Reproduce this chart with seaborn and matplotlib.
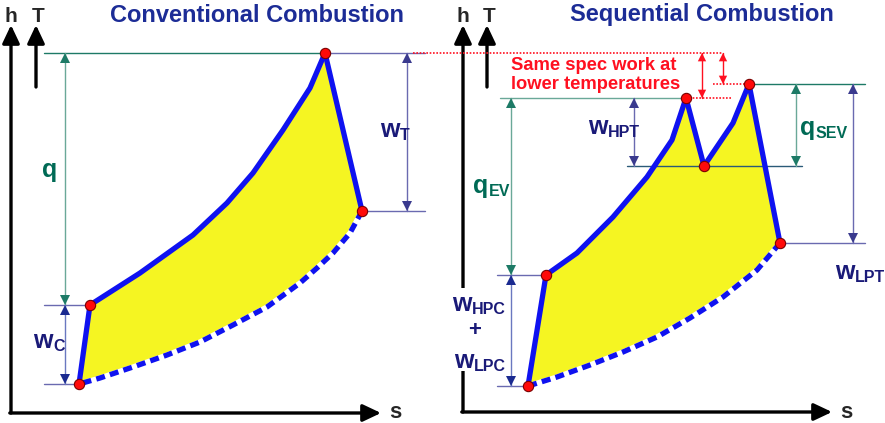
import numpy as np
import matplotlib
matplotlib.use("Agg")
import matplotlib.pyplot as plt
import seaborn as sns

# state points of both cycles (pixel units, y grows downward)
conv_heat_s = [90, 140, 193, 227, 253, 283, 310, 325]
conv_heat_h = [305, 273, 235, 203, 173, 130, 88, 53]
conv_comp_s = [79, 90]
conv_comp_h = [384, 305]
conv_turb_s = [325, 362]
conv_turb_h = [53, 211]
conv_exh_s = [362, 350, 333, 317, 300, 267, 233, 200, 167, 133, 100, 79]
conv_exh_h = [211, 233, 253, 268, 283, 307, 325, 342, 355, 367, 378, 384]
conv_pts_s = [79, 90, 325, 362]
conv_pts_h = [384, 305, 53, 211]

seq_comp_s = [528, 546]
seq_comp_h = [386, 275]
seq_ev_s = [546, 577, 613, 647, 672, 686]
seq_ev_h = [275, 253, 217, 177, 140, 98]
seq_hpt_s = [686, 704]
seq_hpt_h = [98, 166]
seq_sev_s = [704, 733, 749]
seq_sev_h = [166, 123, 84]
seq_lpt_s = [749, 780]
seq_lpt_h = [84, 243]
seq_exh_s = [780, 757, 723, 690, 657, 623, 590, 557, 528]
seq_exh_h = [243, 270, 297, 318, 337, 352, 365, 377, 386]
seq_pts_s = [528, 546, 686, 704, 749, 780]
seq_pts_h = [386, 275, 98, 166, 84, 243]

BLUE = "#0f12f0"
YELLOW = "#f5f522"
TEAL = "#1d7a66"
TEAL_LINE = "#6aa898"
TEAL_TXT = "#006a55"
SLATE = "#6a6ab0"
SLATE_HEAD = "#3a3a8e"
NAVY_LINE = "#6a78c0"
NAVY_HEAD = "#1a2a90"
NAVY = "#1a1a78"
TITLE = "#1c2c96"
RED = "#ff1020"

sns.set_style("white")
plt.rcParams["font.family"] = ["Liberation Sans", "DejaVu Sans"]

fig = plt.figure(figsize=(8.85, 4.23), dpi=100)
ax = fig.add_axes([0, 0, 1, 1])
ax.set_xlim(0, 885)
ax.set_ylim(423, 0)
ax.axis("off")

HEAD = "-|>,head_length=0.4,head_width=0.2"


def arrow(x, y0, y1, line_color, head_color, ms=18):
    ax.plot([x, x], [y0, y1], color=line_color, lw=1.0, zorder=3)
    mid = (y0 + y1) / 2
    for yend in (y0, y1):
        ax.annotate("", xy=(x, yend), xytext=(x, mid),
                    arrowprops=dict(arrowstyle=HEAD, color=head_color, lw=0, mutation_scale=ms,
                                    shrinkA=0, shrinkB=0), zorder=3)


def big_arrow(x0, y0, x1, y1):
    ax.annotate("", xy=(x1, y1), xytext=(x0, y0),
                arrowprops=dict(arrowstyle="-|>,head_length=0.55,head_width=0.26", color="black",
                                lw=2.4, mutation_scale=20, shrinkA=0, shrinkB=0), zorder=2)


def hline(y, x0, x1, color, lw=1.0, ls="-"):
    ax.plot([x0, x1], [y, y], color=color, lw=lw, ls=ls, zorder=2)


def label(x, y, main, sub, color):
    t = ax.text(x, y, main, fontsize=18, fontweight="bold", color=color,
                ha="left", va="baseline", zorder=6)
    ax.annotate(sub, xy=(1, 0), xycoords=t, xytext=(0.3, 1.5), textcoords="offset points",
                fontsize=11.5, fontweight="bold", color=color, ha="left", va="baseline", zorder=6)
    return t


def axes_frame(xa, xt, ybot, xend):
    big_arrow(xa, ybot, xa, 25)
    big_arrow(xt, 87, xt, 25)
    big_arrow(xa - 1.2, ybot, xend, ybot)
    ax.text(xa, 16, "h", fontsize=15, fontweight="bold", ha="center", va="center")
    ax.text(xt + 2, 16, "T", fontsize=15, fontweight="bold", ha="center", va="center")
    ax.text(xend + 14, 413, "s", fontsize=16, fontweight="bold", ha="center", va="center")


def cycle(solid, dashed, pts):
    fs = sum([s for s, h in solid], []) + dashed[0]
    fh = sum([h for s, h in solid], []) + dashed[1]
    ax.fill(fs, fh, color=YELLOW, zorder=1, lw=0)
    for s, h in solid:
        sns.lineplot(x=s, y=h, sort=False, estimator=None, color=BLUE, lw=3.8,
                     solid_joinstyle="round", solid_capstyle="round", ax=ax, zorder=3)
    ax.plot(dashed[0], dashed[1], color="white", lw=3.8, zorder=3, solid_joinstyle="round")
    ax.plot(dashed[0], dashed[1], color=BLUE, lw=3.8, ls=(0, (1.7, 1.0)),
            dash_capstyle="butt", dash_joinstyle="round", zorder=3)
    sns.scatterplot(x=pts[0], y=pts[1], color="#ff0a0a", edgecolor="#7a0000",
                    linewidth=0.8, s=55, zorder=5, ax=ax)


# ---------------- conventional ----------------
axes_frame(11, 36, 413, 381)
ax.text(257, 15, "Conventional Combustion", fontsize=17, fontweight="bold",
        color=TITLE, ha="center", va="center")
hline(53, 44, 325, TEAL)
hline(53, 325, 425, SLATE)
hline(305, 44, 90, SLATE)
hline(384, 44, 79, SLATE)
hline(211, 362, 425, SLATE)
cycle([(conv_comp_s, conv_comp_h), (conv_heat_s, conv_heat_h), (conv_turb_s, conv_turb_h)],
      (conv_exh_s, conv_exh_h), (conv_pts_s, conv_pts_h))
arrow(65, 53, 305, TEAL_LINE, TEAL)
arrow(65, 305, 384, NAVY_LINE, NAVY_HEAD)
arrow(407, 53, 211, SLATE, SLATE_HEAD)
ax.text(42, 177, "q", fontsize=18, fontweight="bold", color=TEAL_TXT, va="baseline")
label(33, 348, "w", "C", NAVY)
label(380, 137, "w", "T", NAVY)

# ---------------- sequential ----------------
axes_frame(463, 487, 412, 832)
ax.text(702, 15, "Sequential Combustion", fontsize=17, fontweight="bold",
        color=TITLE, ha="center", va="center")
hline(98, 500, 686, TEAL_LINE)
hline(84, 749, 865, TEAL)
hline(166, 627, 802, "#2a5a78")
hline(243, 780, 865, SLATE)
hline(275, 497, 546, SLATE)
hline(386, 497, 528, SLATE)
hline(53, 413, 722, RED, lw=1.2, ls=(0, (1, 1)))
hline(98, 686, 732, RED, lw=1.2, ls=(0, (1, 1)))
hline(84, 713, 749, RED, lw=1.2, ls=(0, (1, 1)))
cycle([(seq_comp_s, seq_comp_h), (seq_ev_s, seq_ev_h), (seq_hpt_s, seq_hpt_h),
       (seq_sev_s, seq_sev_h), (seq_lpt_s, seq_lpt_h)],
      (seq_exh_s, seq_exh_h), (seq_pts_s, seq_pts_h))
arrow(511, 98, 275, TEAL_LINE, TEAL)
arrow(511, 275, 386, NAVY_LINE, NAVY_HEAD)
arrow(634, 98, 166, SLATE, SLATE_HEAD)
arrow(796, 84, 166, TEAL_LINE, TEAL)
arrow(853, 84, 243, SLATE, SLATE_HEAD)
arrow(702, 53, 98, RED, RED, ms=15)
arrow(723, 53, 84, RED, RED, ms=15)
ax.text(511, 75, "Same spec work at\nlower temperatures", fontsize=13.2, fontweight="bold",
        color=RED, ha="left", va="center", linespacing=1.1)
label(473, 193, "q", "EV", TEAL_TXT)
label(588, 134, "w", "HPT", NAVY)
label(800, 135, "q", "SEV", TEAL_TXT)
label(835, 279, "w", "LPT", NAVY)
label(452, 311, "w", "HPC", NAVY)
ax.text(475, 331, "+", fontsize=16, fontweight="bold", color=NAVY, ha="center", va="center",
        zorder=6)
label(454, 368, "w", "LPC", NAVY)
# white patch that breaks the h axis behind the compressor labels
ax.fill([455, 472, 472, 455], [288, 288, 371, 371], color="white", zorder=4, lw=0)

fig.savefig("out.png", dpi=100)
